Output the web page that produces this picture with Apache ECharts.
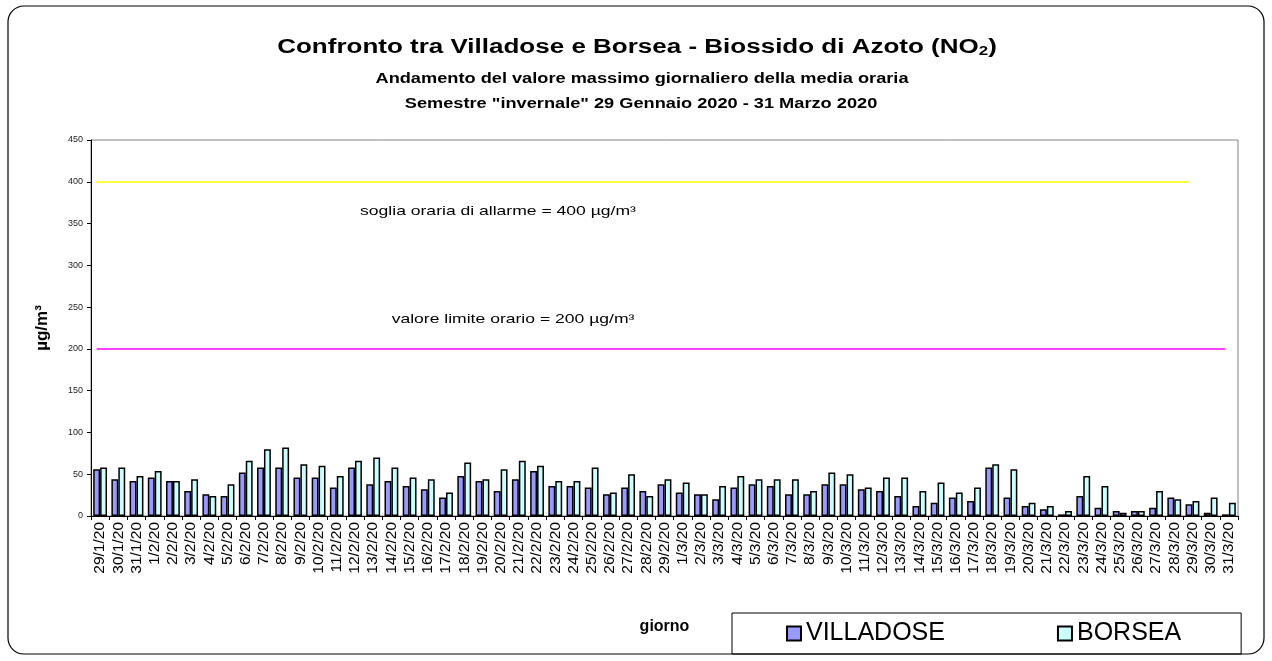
<!DOCTYPE html>
<html>
<head>
<meta charset="utf-8">
<script src="https://cdn.jsdelivr.net/npm/echarts@6/dist/echarts.min.js"></script>
<style>
  html, body { margin: 0; padding: 0; background: #fff; }
  #chart { width: 1272px; height: 661px; }
</style>
</head>
<body>
<div id="chart"></div>
<script>
// days shown on the x axis
const giorni = [
  '29/1/20', '30/1/20', '31/1/20',
  '1/2/20', '2/2/20', '3/2/20', '4/2/20', '5/2/20', '6/2/20', '7/2/20', '8/2/20', '9/2/20', '10/2/20',
  '11/2/20', '12/2/20', '13/2/20', '14/2/20', '15/2/20', '16/2/20', '17/2/20', '18/2/20', '19/2/20', '20/2/20',
  '21/2/20', '22/2/20', '23/2/20', '24/2/20', '25/2/20', '26/2/20', '27/2/20', '28/2/20', '29/2/20',
  '1/3/20', '2/3/20', '3/3/20', '4/3/20', '5/3/20', '6/3/20', '7/3/20', '8/3/20', '9/3/20', '10/3/20',
  '11/3/20', '12/3/20', '13/3/20', '14/3/20', '15/3/20', '16/3/20', '17/3/20', '18/3/20', '19/3/20', '20/3/20',
  '21/3/20', '22/3/20', '23/3/20', '24/3/20', '25/3/20', '26/3/20', '27/3/20', '28/3/20', '29/3/20', '30/3/20', '31/3/20'
]

// massimo giornaliero della media oraria NO2 (µg/m³)
const villadose = [
  56, 44, 42,
  46, 42, 30, 26, 24, 52, 58, 58, 46, 46,
  34, 58, 38, 42, 36, 32, 22, 48, 42, 30,
  44, 54, 36, 36, 34, 26, 34, 30, 38,
  28, 26, 20, 34, 38, 36, 26, 26, 38, 38,
  32, 30, 24, 12, 16, 22, 18, 58, 22, 12,
  8, 2, 24, 10, 6, 6, 10, 22, 14, 4, 2
]
const borsea = [
  58, 58, 48,
  54, 42, 44, 24, 38, 66, 80, 82, 62, 60,
  48, 66, 70, 58, 46, 44, 28, 64, 44, 56,
  66, 60, 42, 42, 58, 28, 50, 24, 44,
  40, 26, 36, 48, 44, 44, 44, 30, 52, 50,
  34, 46, 46, 30, 40, 28, 34, 62, 56, 16,
  12, 6, 48, 36, 4, 6, 30, 20, 18, 22, 16
]

// soglie
const sogliaAllarme = 400
const valoreLimite = 200
const fineLineaAllarme = 60   // index of the last day reached by the yellow line

const yTicks = { min: 0, max: 450, interval: 50 }

const FONT = '"Liberation Sans", Arial, sans-serif'
const stretch = 1.3  // reference text is wider than normal

let chart = echarts.init(document.getElementById('chart'), null, { renderer: 'canvas' })

let option = {
  backgroundColor: '#fff',
  animation: false,
  textStyle: { fontFamily: FONT },
  graphic: [
    {
      type: 'rect',
      shape: { x: 8, y: 6, width: 1256, height: 648, r: 16 },
      style: { fill: 'none', stroke: '#000', lineWidth: 1.2 },
      silent: true
    },
    {
      type: 'text',
      x: 637, y: 47, scaleX: stretch,
      style: {
        text: '{a|Confronto tra Villadose e Borsea - Biossido di Azoto (NO}{s|2}{a|)}',
        align: 'center', verticalAlign: 'middle',
        rich: {
          a: { fontFamily: FONT, fontWeight: 'bold', fontSize: 20, fill: '#000', lineHeight: 24 },
          s: { fontFamily: FONT, fontWeight: 'bold', fontSize: 13, fill: '#000', lineHeight: 24, padding: [9, 0, 0, 0] }
        }
      }
    },
    {
      type: 'text',
      x: 642, y: 79, scaleX: stretch,
      style: {
        text: 'Andamento del valore massimo giornaliero della media oraria',
        align: 'center', verticalAlign: 'middle',
        font: 'bold 14px ' + FONT, fill: '#000'
      }
    },
    {
      type: 'text',
      x: 641, y: 104, scaleX: stretch,
      style: {
        text: 'Semestre "invernale" 29 Gennaio 2020 - 31 Marzo 2020',
        align: 'center', verticalAlign: 'middle',
        font: 'bold 14px ' + FONT, fill: '#000'
      }
    },
    {
      type: 'text',
      x: 498, y: 211, scaleX: stretch,
      style: {
        text: 'soglia oraria di allarme = 400 µg/m³',
        align: 'center', verticalAlign: 'middle',
        font: '13.5px ' + FONT, fill: '#000'
      }
    },
    {
      type: 'text',
      x: 513, y: 319, scaleX: stretch,
      style: {
        text: 'valore limite orario = 200 µg/m³',
        align: 'center', verticalAlign: 'middle',
        font: '13.5px ' + FONT, fill: '#000'
      }
    }
  ],
  legend: {
    left: 732,
    top: 613,
    orient: 'horizontal',
    icon: 'rect',
    itemWidth: 14,
    itemHeight: 14,
    itemGap: 112,
    padding: [8, 60, 8, 54],
    borderColor: '#000',
    borderWidth: 1,
    textStyle: { fontSize: 25, color: '#000', fontFamily: FONT },
    data: ['VILLADOSE', 'BORSEA']
  },
  grid: {
    left: 91,
    right: 34,
    top: 140,
    bottom: 145,
    show: true,
    borderColor: '#808080',
    borderWidth: 1,
    containLabel: false
  },
  xAxis: {
    type: 'category',
    data: giorni,
    name: 'giorno',
    nameLocation: 'middle',
    nameGap: 103,
    nameTextStyle: { fontWeight: 'bold', fontSize: 16, color: '#000' },
    axisLine: { lineStyle: { color: '#000', width: 1 } },
    axisTick: { show: true, length: 4, lineStyle: { color: '#000' } },
    axisLabel: { interval: 0, rotate: 90, fontSize: 15.5, color: '#000', margin: 6 },
    splitLine: { show: false }
  },
  yAxis: {
    type: 'value',
    min: yTicks.min,
    max: yTicks.max,
    interval: yTicks.interval,
    name: 'µg/m³',
    nameLocation: 'middle',
    nameRotate: 90,
    nameGap: 40,
    nameTextStyle: { fontWeight: 'bold', fontSize: 17, color: '#000' },
    axisLine: { show: true, lineStyle: { color: '#000', width: 1 } },
    axisTick: { show: true, length: 4, lineStyle: { color: '#000' } },
    axisLabel: { fontSize: 9, color: '#222', margin: 8 },
    splitLine: { show: false }
  },
  series: [
    {
      name: 'VILLADOSE',
      type: 'bar',
      data: villadose,
      barGap: '0%',
      barCategoryGap: '24%',
      itemStyle: { color: '#9999FF', borderColor: '#000', borderWidth: 1.5 },
      markLine: {
        silent: true,
        symbol: 'none',
        label: { show: false },
        data: [
          [
            { coord: [0, sogliaAllarme], lineStyle: { color: '#FFFF00', width: 1.5, type: 'solid' } },
            { coord: [fineLineaAllarme, sogliaAllarme] }
          ],
          [
            { coord: [0, valoreLimite], lineStyle: { color: '#FF00FF', width: 1.5, type: 'solid' } },
            { coord: [giorni.length - 1, valoreLimite] }
          ]
        ]
      }
    },
    {
      name: 'BORSEA',
      type: 'bar',
      data: borsea,
      barGap: '0%',
      barCategoryGap: '24%',
      itemStyle: { color: '#CCFFFF', borderColor: '#000', borderWidth: 1.5 }
    }
  ]
}

option && chart.setOption(option)
</script>
</body>
</html>
